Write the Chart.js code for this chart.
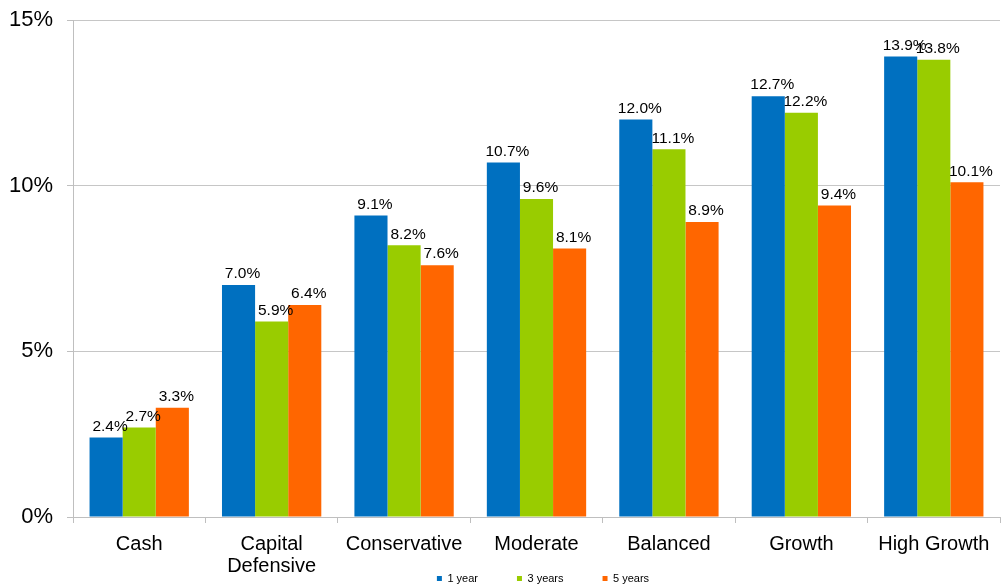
<!DOCTYPE html>
<html>
<head>
<meta charset="utf-8">
<script src="https://cdn.jsdelivr.net/npm/chart.js@4"></script>
<style>
html,body{margin:0;padding:0;background:#fff;}
#wrap{width:1002px;height:588px;position:relative;}
</style>
</head>
<body>
<div id="wrap"><canvas id="c"></canvas></div>
<script>
const categories = ["Cash", ["Capital", "Defensive"], "Conservative", "Moderate", "Balanced", "Growth", "High Growth"];
const oneYear   = [2.4, 7.0, 9.1, 10.7, 12.0, 12.7, 13.9];
const threeYears = [2.7, 5.9, 8.2, 9.6, 11.1, 12.2, 13.8];
const fiveYears = [3.3, 6.4, 7.6, 8.1, 8.9, 9.4, 10.1];
const seriesNames = ["1 year", "3 years", "5 years"];
const yTicks = [0, 5, 10, 15];

const FONT = "'Liberation Sans', Arial, sans-serif";

const labelPlugin = {
  id: 'barLabels',
  afterLayout(chart) {
    // place the legend row as in the reference (centre ~y=578, shifted right)
    const lg = chart.legend;
    if (lg) {
      lg.left += 43; lg.right += 43;
      lg.top = 534; lg.bottom = lg.top + 54;
    }
  },
  afterDatasetsDraw(chart) {
    const ctx = chart.ctx;
    ctx.save();
    ctx.font = "15.5px " + FONT;
    ctx.fillStyle = "#000";
    ctx.textAlign = "center";
    ctx.textBaseline = "middle";
    chart.data.datasets.forEach((ds, di) => {
      const meta = chart.getDatasetMeta(di);
      meta.data.forEach((bar, i) => {
        ctx.fillText(ds.data[i].toFixed(1) + "%", bar.x + 4, bar.y - 11);
      });
    });
    ctx.restore();
  }
};

new Chart(document.getElementById('c'), {
  type: 'bar',
  data: {
    labels: categories,
    datasets: [
      { label: seriesNames[0], data: oneYear, backgroundColor: '#0070C0' },
      { label: seriesNames[1], data: threeYears, backgroundColor: '#99CC00' },
      { label: seriesNames[2], data: fiveYears, backgroundColor: '#FF6600' }
    ]
  },
  options: {
    responsive: true,
    maintainAspectRatio: false,
    animation: false,
    layout: { padding: { top: 20, right: 2, left: 0, bottom: 0 } },
    datasets: { bar: { categoryPercentage: 0.75, barPercentage: 1.0 } },
    plugins: {
      legend: {
        position: 'bottom',
        maxHeight: 10,
        labels: {
          boxWidth: 5, boxHeight: 5, padding: 39,
          font: { size: 11, family: FONT }, color: '#000'
        }
      },
      tooltip: { enabled: false }
    },
    scales: {
      x: {
        grid: { drawOnChartArea: false, color: '#bfbfbf', tickLength: 6, offset: true },
        border: { color: '#bfbfbf' },
        ticks: { font: { size: 20, family: FONT, lineHeight: 1.1 }, color: '#000', padding: 10, maxRotation: 0, autoSkip: false },
        afterFit(scale) { scale.height = 61; }
      },
      y: {
        min: 0, max: 15,
        afterBuildTicks(scale) { scale.ticks = yTicks.map(v => ({ value: v })); },
        grid: { color: '#c6c6c6', tickColor: '#bfbfbf', tickLength: 6 },
        border: { color: '#bfbfbf' },
        ticks: { font: { size: 22, family: FONT }, color: '#000', padding: 14, callback: v => v + '%' },
        afterFit(scale) { scale.width = 73; scale.paddingTop = 0; scale.paddingBottom = 0; }
      }
    }
  },
  plugins: [labelPlugin]
});
</script>
</body>
</html>
